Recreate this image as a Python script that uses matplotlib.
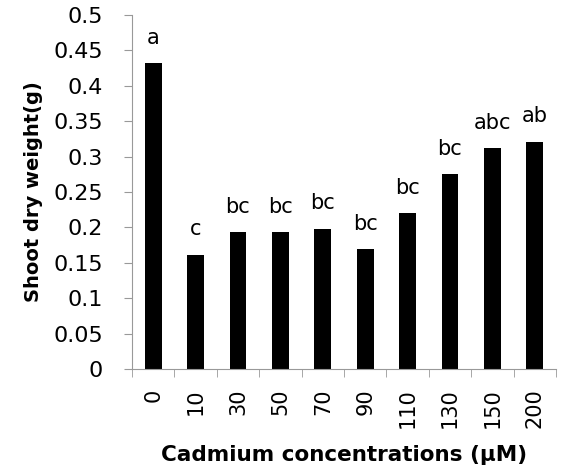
import matplotlib.pyplot as plt
import numpy as np

concentrations = ['0', '10', '30', '50', '70', '90', '110', '130', '150', '200']
dry_weight = [0.432, 0.161, 0.193, 0.193, 0.198, 0.169, 0.220, 0.275, 0.312, 0.321]
letters = ['a', 'c', 'bc', 'bc', 'bc', 'bc', 'bc', 'bc', 'abc', 'ab']

fig = plt.figure(figsize=(5.61, 4.72), dpi=100)
ax = fig.add_axes([132/561, (472-369)/472, 424/561, 354/472])

X = np.arange(len(concentrations))
ax.bar(X, dry_weight, width=0.4, color='black')
for x, v, t in zip(X, dry_weight, letters):
  ax.text(x, v + 0.022, t, ha='center', va='bottom', fontsize=15)

ax.set_xlim(-0.5, len(concentrations) - 0.5)
ax.set_ylim(0, 0.5)
ax.set_yticks(np.arange(0, 0.51, 0.05))
ax.set_yticklabels(['0', '0.05', '0.1', '0.15', '0.2', '0.25', '0.3', '0.35', '0.4', '0.45', '0.5'])
ax.set_xticks(X)
ax.set_xticklabels(concentrations, rotation=90)
ax.set_xticks(np.arange(-0.5, len(concentrations)), minor=True)
ax.tick_params(axis='x', which='major', length=0, pad=14, labelsize=15)
ax.tick_params(axis='x', which='minor', length=6, color='#999999', direction='out')
ax.tick_params(axis='y', length=6, color='#999999', labelsize=16, pad=15)

for side in ['top', 'right']:
  ax.spines[side].set_visible(False)
ax.spines['left'].set_color('#999999')
ax.spines['bottom'].set_color('#999999')

ax.set_ylabel("Shoot dry weight(g)", fontsize=14, fontweight='bold')
ax.yaxis.set_label_coords(-0.21, 0.5)
ax.set_xlabel("Cadmium concentrations (\u00b5M)", fontsize=15.5, fontweight='bold')
ax.xaxis.set_label_coords(0.5, -0.215)

fig.savefig("out.png", dpi=100)
